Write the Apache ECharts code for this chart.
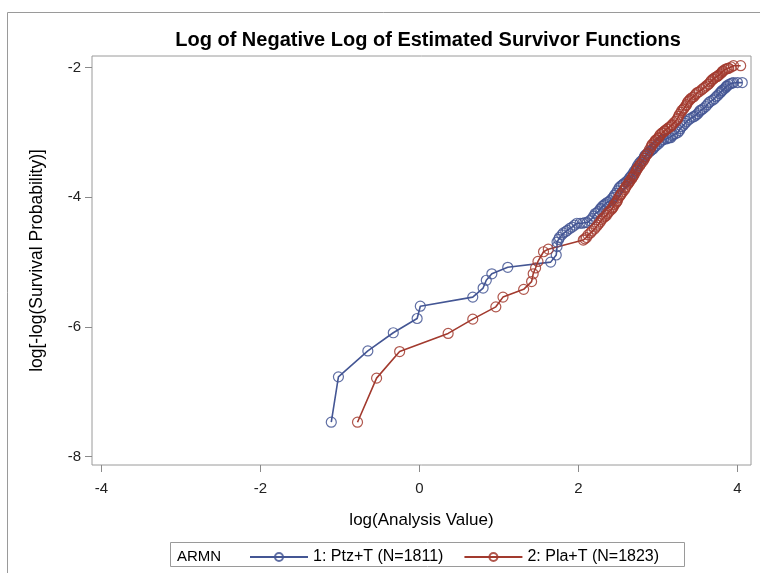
<!DOCTYPE html>
<html>
<head>
<meta charset="utf-8">
<script src="https://cdn.jsdelivr.net/npm/echarts@6/dist/echarts.min.js"></script>
<style>
  html, body { margin: 0; padding: 0; background: #fff; }
  #chart { width: 760px; height: 573px; }
</style>
</head>
<body>
<div id="chart"></div>
<script>
// Tick positions
const xTicks = [-4, -2, 0, 2, 4];
const yTicks = [-8, -6, -4, -2];

// Group 1: Ptz+T  -- log(time) and log(-log(S))
const ptzX = [-1.11, -1.02, -0.65, -0.33, -0.03, 0.01, 0.67, 0.80, 0.84, 0.91, 1.11, 1.65,
  1.72, 1.73, 1.73, 1.75, 1.76, 1.79, 1.81, 1.84, 1.86, 1.89, 1.92, 1.95, 1.98, 2.02, 2.05, 2.08,
  2.11, 2.14, 2.17, 2.19, 2.21, 2.23, 2.25, 2.27, 2.28, 2.30, 2.32, 2.34, 2.36, 2.38, 2.40, 2.42,
  2.44, 2.45, 2.47, 2.49, 2.51, 2.52, 2.54, 2.56, 2.57, 2.60, 2.62, 2.64, 2.65, 2.67, 2.69, 2.70,
  2.72, 2.73, 2.74, 2.76, 2.78, 2.80, 2.82, 2.83, 2.84, 2.86, 2.88, 2.90, 2.91, 2.93, 2.94, 2.96,
  2.98, 3.01, 3.03, 3.05, 3.07, 3.10, 3.12, 3.14, 3.16, 3.18, 3.19, 3.22, 3.25, 3.27, 3.28, 3.30,
  3.32, 3.34, 3.36, 3.39, 3.41, 3.44, 3.46, 3.48, 3.50, 3.52, 3.53, 3.55, 3.57, 3.60, 3.62, 3.64,
  3.66, 3.69, 3.71, 3.73, 3.75, 3.77, 3.79, 3.80, 3.81, 3.83, 3.85, 3.86, 3.87, 3.89, 3.91, 3.93,
  3.95, 4.00, 4.06];
const ptzY = [-7.47, -6.77, -6.37, -6.09, -5.87, -5.68, -5.54, -5.40, -5.28, -5.18, -5.08, -5.00,
  -4.89, -4.76, -4.69, -4.65, -4.62, -4.58, -4.55, -4.53, -4.51, -4.48, -4.46, -4.43, -4.40, -4.40, -4.40, -4.39,
  -4.39, -4.36, -4.33, -4.29, -4.25, -4.24, -4.22, -4.19, -4.17, -4.14, -4.12, -4.10, -4.08, -4.07, -4.05, -4.02,
  -4.00, -3.97, -3.94, -3.90, -3.86, -3.84, -3.82, -3.80, -3.79, -3.76, -3.74, -3.71, -3.69, -3.66, -3.63, -3.60,
  -3.58, -3.55, -3.52, -3.48, -3.45, -3.43, -3.40, -3.37, -3.35, -3.33, -3.31, -3.29, -3.28, -3.26, -3.25, -3.22,
  -3.20, -3.17, -3.14, -3.12, -3.11, -3.10, -3.09, -3.08, -3.08, -3.05, -3.03, -3.02, -3.00, -2.97, -2.94, -2.91,
  -2.89, -2.86, -2.83, -2.80, -2.78, -2.76, -2.75, -2.73, -2.71, -2.68, -2.66, -2.65, -2.63, -2.60, -2.57, -2.54,
  -2.52, -2.50, -2.48, -2.45, -2.43, -2.40, -2.38, -2.36, -2.35, -2.33, -2.31, -2.29, -2.28, -2.26, -2.25, -2.24,
  -2.23, -2.23, -2.23];

// Group 2: Pla+T
const plaX = [-0.78, -0.54, -0.25, 0.36, 0.67, 0.96, 1.05, 1.31, 1.41, 1.43, 1.46, 1.49, 1.56, 1.62,
  2.06, 2.08, 2.10, 2.12, 2.15, 2.17, 2.20, 2.22, 2.24, 2.26, 2.28, 2.29, 2.31, 2.33, 2.35, 2.36,
  2.38, 2.40, 2.42, 2.43, 2.44, 2.45, 2.47, 2.48, 2.49, 2.50, 2.52, 2.53, 2.54, 2.56, 2.58, 2.59,
  2.60, 2.62, 2.63, 2.64, 2.65, 2.67, 2.68, 2.69, 2.70, 2.72, 2.73, 2.74, 2.75, 2.77, 2.78, 2.80,
  2.82, 2.83, 2.84, 2.86, 2.87, 2.89, 2.91, 2.92, 2.93, 2.95, 2.96, 2.97, 2.98, 3.00, 3.01, 3.02,
  3.03, 3.05, 3.06, 3.08, 3.09, 3.11, 3.12, 3.14, 3.16, 3.17, 3.18, 3.20, 3.22, 3.24, 3.25, 3.26,
  3.27, 3.29, 3.30, 3.32, 3.33, 3.35, 3.36, 3.37, 3.38, 3.40, 3.41, 3.43, 3.45, 3.47, 3.48, 3.50,
  3.52, 3.55, 3.57, 3.59, 3.61, 3.63, 3.64, 3.66, 3.67, 3.69, 3.70, 3.72, 3.74, 3.75, 3.76, 3.78,
  3.80, 3.81, 3.82, 3.84, 3.86, 3.88, 3.89, 3.92, 3.95, 4.04];
const plaY = [-7.47, -6.79, -6.38, -6.10, -5.88, -5.69, -5.54, -5.42, -5.30, -5.18, -5.09, -4.99, -4.84, -4.80,
  -4.66, -4.64, -4.62, -4.58, -4.55, -4.52, -4.49, -4.46, -4.43, -4.40, -4.37, -4.34, -4.32, -4.30, -4.28, -4.25,
  -4.23, -4.20, -4.18, -4.16, -4.14, -4.11, -4.09, -4.07, -4.05, -4.01, -3.98, -3.96, -3.94, -3.91, -3.88, -3.85,
  -3.83, -3.80, -3.78, -3.76, -3.74, -3.71, -3.69, -3.67, -3.65, -3.61, -3.58, -3.56, -3.54, -3.51, -3.49, -3.46,
  -3.43, -3.40, -3.37, -3.34, -3.32, -3.27, -3.23, -3.20, -3.18, -3.16, -3.14, -3.12, -3.11, -3.09, -3.08, -3.05,
  -3.03, -3.01, -3.00, -2.98, -2.97, -2.95, -2.94, -2.92, -2.91, -2.89, -2.88, -2.85, -2.83, -2.80, -2.78, -2.75,
  -2.72, -2.69, -2.66, -2.64, -2.62, -2.59, -2.57, -2.54, -2.52, -2.50, -2.48, -2.46, -2.45, -2.42, -2.40, -2.38,
  -2.37, -2.34, -2.32, -2.30, -2.28, -2.26, -2.25, -2.22, -2.20, -2.18, -2.17, -2.15, -2.14, -2.13, -2.12, -2.10,
  -2.08, -2.06, -2.05, -2.03, -2.02, -2.01, -2.01, -1.99, -1.97, -1.97];

const seriesNames = ['1: Ptz+T (N=1811)', '2: Pla+T (N=1823)'];
const colors = ['#445694', '#A23A2E'];

function pairs(xs, ys) { return xs.map((x, i) => [x, ys[i]]); }

const FONT = '"Liberation Sans", Arial, sans-serif';
const chart = echarts.init(document.getElementById('chart'), null, { renderer: 'canvas' });

function makeSeries(name, color, data) {
  return {
    name, type: 'line', data,
    symbol: 'circle', symbolSize: 10, showAllSymbol: true,
    lineStyle: { color, width: 1.6 },
    itemStyle: { color: 'rgba(0,0,0,0)', borderColor: color, borderWidth: 1.2, opacity: 0.85 },
    emphasis: { disabled: true }
  };
}

chart.setOption({
  animation: false,
  backgroundColor: '#fff',
  title: {
    text: 'Log of Negative Log of Estimated Survivor Functions',
    left: 423, top: 25, textAlign: 'center',
    textStyle: { fontFamily: FONT, fontSize: 20, fontWeight: 'bold', color: '#000' }
  },
  grid: {
    left: 92, right: 9, top: 56, bottom: 108,
    show: true, borderColor: '#9a9a9a', borderWidth: 1, backgroundColor: 'transparent'
  },
  xAxis: {
    type: 'value', min: -4.12, max: 4.17,
    name: 'log(Analysis Value)', nameLocation: 'middle', nameGap: 47,
    nameTextStyle: { fontFamily: FONT, fontSize: 17, color: '#000' },
    axisLine: { show: false, onZero: false },
    axisTick: { show: true, length: 7, customValues: xTicks, lineStyle: { color: '#8a8a8a' } },
    axisLabel: { customValues: xTicks, margin: 16, fontFamily: FONT, fontSize: 15, color: '#222' },
    splitLine: { show: false }
  },
  yAxis: {
    type: 'value', min: -8.13, max: -1.82,
    name: 'log[-log(Survival Probability)]', nameLocation: 'middle', nameGap: 46,
    nameTextStyle: { fontFamily: FONT, fontSize: 17.5, color: '#000' },
    axisLine: { show: false, onZero: false },
    axisTick: { show: true, length: 7, customValues: yTicks, lineStyle: { color: '#8a8a8a' } },
    axisLabel: { customValues: yTicks, margin: 11, fontFamily: FONT, fontSize: 15, color: '#222' },
    splitLine: { show: false }
  },
  legend: {
    data: seriesNames,
    left: 244, top: 544,
    itemWidth: 58, itemHeight: 10, itemGap: 20,
    textStyle: { fontFamily: FONT, fontSize: 16, color: '#000' },
    selectedMode: false
  },
  graphic: [
    { type: 'line', shape: { x1: 7.5, y1: 12.5, x2: 760, y2: 12.5 }, style: { stroke: '#9a9a9a', lineWidth: 1 } },
    { type: 'line', shape: { x1: 7.5, y1: 12.5, x2: 7.5, y2: 573 }, style: { stroke: '#9a9a9a', lineWidth: 1 } },
    { type: 'rect', shape: { x: 170.5, y: 542.5, width: 514, height: 24 }, style: { fill: 'none', stroke: '#9a9a9a', lineWidth: 1 } },
    { type: 'text', left: 177, top: 549, style: { text: 'ARMN', font: '15px ' + FONT, fill: '#000' } }
  ],
  series: [
    makeSeries(seriesNames[0], colors[0], pairs(ptzX, ptzY)),
    makeSeries(seriesNames[1], colors[1], pairs(plaX, plaY))
  ]
});
</script>
</body>
</html>
